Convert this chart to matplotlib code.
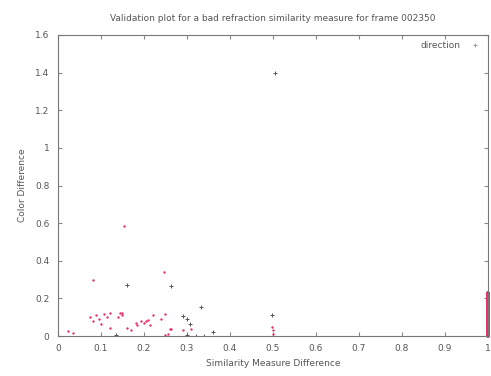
import matplotlib
matplotlib.use('Agg')
import matplotlib.pyplot as plt

title = 'Validation plot for a bad refraction similarity measure for frame 002350'
xlabel = 'Similarity Measure Difference'
ylabel = 'Color Difference'

# pink (main direction) points
pink_x = [0.023, 0.034, 0.081, 0.074, 0.081, 0.088, 0.095, 0.100, 0.114, 0.120,
          0.120, 0.140, 0.145, 0.153, 0.150, 0.160, 0.170, 0.182, 0.184, 0.200,
          0.205, 0.210, 0.220, 0.247, 0.250, 0.255, 0.250, 0.260, 0.263, 0.290,
          0.310, 0.497, 0.500, 0.500, 0.240, 0.215, 0.108, 0.148, 0.192]
pink_y = [0.028, 0.015, 0.300, 0.100, 0.080, 0.110, 0.090, 0.065, 0.100, 0.125,
          0.045, 0.100, 0.125, 0.585, 0.125, 0.045, 0.030, 0.070, 0.060, 0.070,
          0.080, 0.085, 0.110, 0.340, 0.005, 0.010, 0.115, 0.040, 0.040, 0.030,
          0.040, 0.050, 0.035, 0.010, 0.090, 0.060, 0.120, 0.110, 0.080]

# dark points
dark_x = [0.134, 0.161, 0.264, 0.290, 0.300, 0.306, 0.333, 0.360, 0.497, 0.300,
          0.320, 0.340, 0.505]
dark_y = [0.005, 0.270, 0.268, 0.105, 0.090, 0.065, 0.155, 0.020, 0.110, 0.005,
          0.003, 0.003, 1.400]

# stack of pink points at x = 1
edge_y = [0.0, 0.01, 0.02, 0.03, 0.04, 0.05, 0.06, 0.07, 0.08, 0.09, 0.10,
          0.11, 0.12, 0.13, 0.14, 0.15, 0.16, 0.17, 0.18, 0.19, 0.20, 0.21,
          0.22, 0.23]

xticks = [0, 0.1, 0.2, 0.3, 0.4, 0.5, 0.6, 0.7, 0.8, 0.9, 1]
xticklabels = ['0', '0.1', '0.2', '0.3', '0.4', '0.5', '0.6', '0.7', '0.8', '0.9', '1']
yticks = [0, 0.2, 0.4, 0.6, 0.8, 1, 1.2, 1.4, 1.6]
yticklabels = ['0', '0.2', '0.4', '0.6', '0.8', '1', '1.2', '1.4', '1.6']

pink = '#e8336b'
dark = '#555555'
txt = '#555555'

fig = plt.figure(figsize=(4.91, 3.76), dpi=100)
ax = fig.add_axes([0.118, 0.106, 0.876, 0.801])

ax.plot(pink_x, pink_y, '+', color=pink, ms=2, mew=1.0)
ax.plot(dark_x, dark_y, '+', color=dark, ms=2.5, mew=0.7)
ax.plot([1] * len(edge_y), edge_y, '+', color=pink, ms=3, mew=1.5, clip_on=False)
# legend sample
ax.plot([], [], '+', color='#999999', ms=3, mew=0.7, label='direction')

ax.set_xlim(0, 1)
ax.set_ylim(0, 1.6)
ax.set_xticks(xticks)
ax.set_xticklabels(xticklabels)
ax.set_yticks(yticks)
ax.set_yticklabels(yticklabels)
ax.tick_params(direction='in', top=True, right=True, labelsize=6.5,
               colors='#888888', labelcolor=txt, length=3, pad=6)
for s in ax.spines.values():
    s.set_color('#777777')
    s.set_linewidth(0.8)

ax.set_title(title, fontsize=6.5, color=txt, pad=10)
ax.set_xlabel(xlabel, fontsize=6.5, color=txt, labelpad=4)
ax.set_ylabel(ylabel, fontsize=6.5, color=txt, labelpad=6)

leg = ax.legend(loc='upper right', frameon=False, fontsize=6.5, markerfirst=False,
                handlelength=1.5, borderaxespad=0.3)
for t in leg.get_texts():
    t.set_color(txt)

fig.savefig('out.png', dpi=100)
